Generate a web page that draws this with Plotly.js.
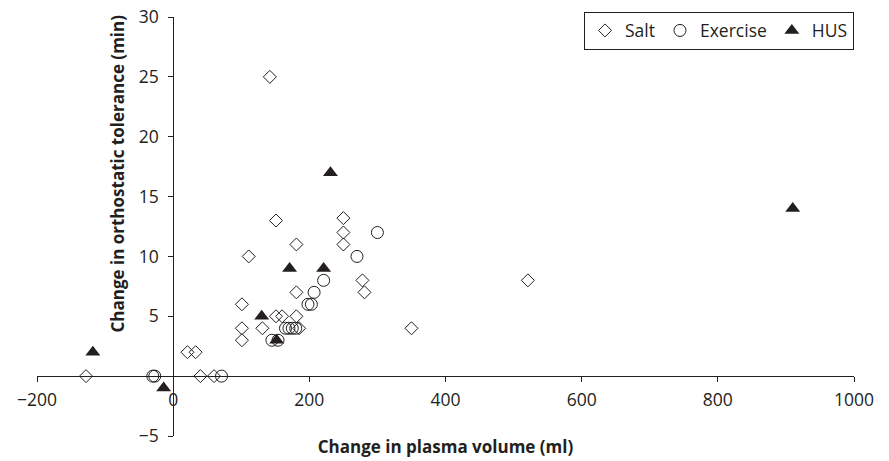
<!DOCTYPE html>
<html>
<head>
<meta charset="utf-8">
<script src="https://cdn.plot.ly/plotly-3.0.1.min.js"></script>
<style>html,body{margin:0;padding:0;background:#fff;}#chart{width:889px;height:461px;}</style>
</head>
<body>
<div id="chart"></div>
<script>
// Salt (open diamonds)
const saltX = [-128, 40, 60, 21, 33, 101, 101, 101, 111, 131, 142, 151, 151, 160, 181, 181, 181, 185, 250, 250, 250, 278, 281, 350, 521];
const saltY = [0, 0, 0, 2, 2, 3, 4, 6, 10, 4, 25, 13, 5, 5, 5, 7, 11, 4, 13.2, 12, 11, 8, 7, 4, 8];
// Exercise (open circles)
const exX = [-30, -27, 71, 145, 154, 165, 170, 175, 180, 198, 203, 207, 221, 270, 300];
const exY = [0, 0, 0, 3, 3, 4, 4, 4, 4, 6, 6, 7, 8, 10, 12];
// HUS (filled triangles)
const husX = [-118, -14, 130, 152, 171, 221, 231, 910];
const husY = [2, -1, 5, 3, 9, 9, 17, 14];

const xTicks = [-200, 0, 200, 400, 600, 800, 1000];
const yTicks = [-5, 0, 5, 10, 15, 20, 25, 30];
const yTickText = ['\u22125', '', '5', '10', '15', '20', '25', '30'];

const xTitle = 'Change in plasma volume (ml)';
const yTitle = 'Change in orthostatic tolerance (min)';

const FONT = 'Open Sans, Noto Sans, sans-serif';
const INK = '#231f20';

const traces = [
  {x: saltX, y: saltY, name: 'Salt', type: 'scatter', mode: 'markers',
   marker: {symbol: 'diamond-open', size: 10, color: INK, line: {width: 1, color: INK}}},
  {x: exX, y: exY, name: 'Exercise', type: 'scatter', mode: 'markers',
   marker: {symbol: 'circle-open', size: 12, color: INK, line: {width: 1, color: INK}}},
  {x: husX, y: husY, name: 'HUS', type: 'scatter', mode: 'markers',
   marker: {symbol: 'triangle-up', size: 13, color: INK, line: {width: 0}}}
];

const layout = {
  width: 889, height: 461,
  margin: {l: 37, r: 35, t: 17, b: 25},
  paper_bgcolor: '#fff', plot_bgcolor: '#fff',
  font: {family: FONT, size: 17, color: INK},
  showlegend: true,
  legend: {orientation: 'h', x: 1, xanchor: 'right', y: 1.013, yanchor: 'top',
           bordercolor: INK, borderwidth: 1, bgcolor: '#fff',
           font: {family: FONT, size: 17.5, color: INK}},
  xaxis: {range: [-200, 1000], tickvals: xTicks, ticks: 'outside', ticklen: 5, tickwidth: 1,
          tickcolor: INK, showline: true, linecolor: INK, linewidth: 1, showgrid: false,
          zeroline: false, anchor: 'free', position: 5/35, fixedrange: true,
          ticklabelstandoff: 3,
          tickfont: {family: FONT, size: 17.5, color: INK},
          title: {text: xTitle, standoff: 30, font: {family: FONT, size: 17, color: INK, weight: 'bold'}}},
  yaxis: {range: [-5, 30], tickvals: yTicks, ticktext: yTickText, ticks: 'outside', ticklen: 5, tickwidth: 1,
          tickcolor: INK, showline: true, linecolor: INK, linewidth: 1, showgrid: false,
          zeroline: false, anchor: 'free', position: 200/1200, fixedrange: true,
          ticklabelstandoff: 6,
          tickfont: {family: FONT, size: 17.5, color: INK}},
  annotations: [
    {text: yTitle, xref: 'paper', yref: 'paper', x: 0.098, y: 0.6265, textangle: -90,
     showarrow: false, xanchor: 'center', yanchor: 'middle',
     font: {family: FONT, size: 17, color: INK, weight: 'bold'}}
  ]
};

Plotly.newPlot('chart', traces, layout, {displayModeBar: false, staticPlot: true});
</script>
</body>
</html>
